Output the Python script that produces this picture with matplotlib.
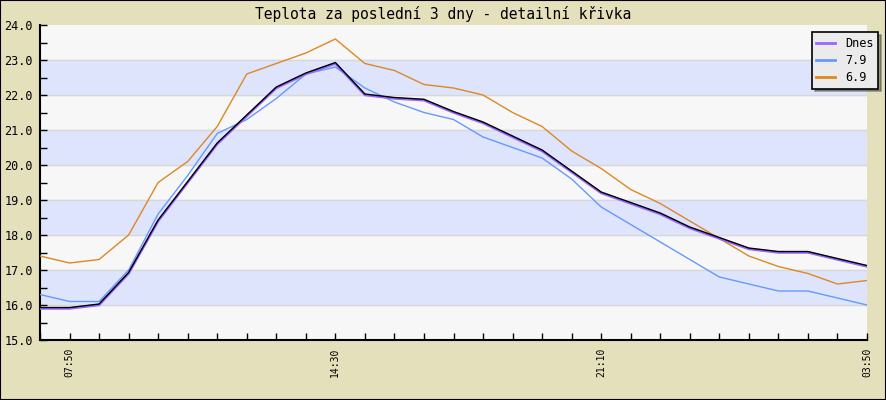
import matplotlib.pyplot as plt
from matplotlib.transforms import offset_copy

# time axis: one point per tick, only a few are labelled
n_points = 29
label_pos = [1, 10, 19, 28]
label_txt = ["07:50", "14:30", "21:10", "03:50"]

dnes = [15.9, 15.9, 16.0, 16.9, 18.4, 19.5, 20.6, 21.4, 22.2, 22.6, 22.9,
        22.0, 21.9, 21.85, 21.5, 21.2, 20.8, 20.4, 19.8, 19.2, 18.9, 18.6,
        18.2, 17.9, 17.6, 17.5, 17.5, 17.3, 17.1]
den_79 = [16.3, 16.1, 16.1, 17.0, 18.6, 19.7, 20.9, 21.3, 21.9, 22.6, 22.8,
          22.2, 21.8, 21.5, 21.3, 20.8, 20.5, 20.2, 19.6, 18.8, 18.3, 17.8,
          17.3, 16.8, 16.6, 16.4, 16.4, 16.2, 16.0]
den_69 = [17.4, 17.2, 17.3, 18.0, 19.5, 20.1, 21.1, 22.6, 22.9, 23.2, 23.6,
          22.9, 22.7, 22.3, 22.2, 22.0, 21.5, 21.1, 20.4, 19.9, 19.3, 18.9,
          18.4, 17.9, 17.4, 17.1, 16.9, 16.6, 16.7]

bg = "#E4E0BC"
mono = "DejaVu Sans Mono"

fig = plt.figure(figsize=(8.86, 4.0), dpi=100, facecolor=bg)
fig.patches.append(plt.Rectangle((0, 0), 1, 1, transform=fig.transFigure,
                                 fill=False, edgecolor="black", linewidth=1.5))

ax = fig.add_axes([40 / 886, 60 / 400, 827 / 886, 315 / 400])
ax.set_facecolor("#F7F7F7")
ax.set_xlim(0, n_points - 1)
ax.set_ylim(15, 24)

# alternating bands + grid
for lo in range(16, 24, 2):
    ax.axhspan(lo, lo + 1, color="#DDE4FC", zorder=0)
for v in range(16, 24):
    ax.axhline(v, color="#D8D8D8", linewidth=1, zorder=1)

x = list(range(n_points))
ax.plot(x, den_69, color="#DD8822", linewidth=1, zorder=3, label="6.9")
ax.plot(x, den_79, color="#6699FF", linewidth=1, zorder=3, label="7.9")
ax.plot(x, dnes, color="#9966FF", linewidth=1.8, zorder=4, label="Dnes")
shift = offset_copy(ax.transData, fig=fig, x=0, y=0.7, units="points")
ax.plot(x, dnes, color="black", linewidth=1.0, zorder=5, transform=shift)

for s in ["top", "right"]:
    ax.spines[s].set_visible(False)
for s in ["left", "bottom"]:
    ax.spines[s].set_linewidth(1.5)

ax.set_yticks(range(15, 25))
ax.set_yticklabels([f"{v:.1f}" for v in range(15, 25)], fontfamily=mono, fontsize=8.5)
ax.set_yticks([v + 0.5 for v in range(15, 24)], minor=True)
ax.set_xticks(x)
ax.set_xticklabels(["" for _ in x])
ax.tick_params(axis="both", which="both", direction="in", length=5, width=1)
ax.tick_params(axis="y", pad=5)
for p, t in zip(label_pos, label_txt):
    ax.text(p, 14.78, t, rotation=90, ha="center", va="top",
            fontfamily=mono, fontsize=7)

fig.text(0.5, 1 - 14 / 400, "Teplota za poslední 3 dny - detailní křivka",
         ha="center", va="center", fontfamily=mono, fontsize=10.5)

handles, labels = ax.get_legend_handles_labels()
order = [2, 1, 0]
leg = ax.legend([handles[i] for i in order], [labels[i] for i in order],
                loc="upper right", bbox_to_anchor=(878 / 886, 1 - 32 / 400),
                bbox_transform=fig.transFigure, fancybox=False, shadow=True,
                framealpha=1, facecolor="#EBEBEB", edgecolor="black",
                prop={"family": mono, "size": 8.5}, handlelength=1.6,
                borderpad=0.4, labelspacing=0.35, borderaxespad=0)
leg.get_frame().set_linewidth(1.2)
for h in leg.legend_handles:
    h.set_linewidth(2)

fig.savefig("out.png", dpi=100, facecolor=bg)
